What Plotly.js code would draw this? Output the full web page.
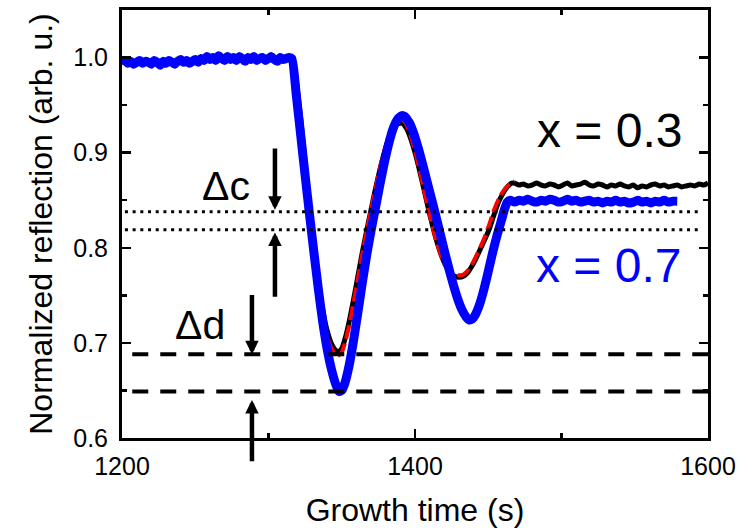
<!DOCTYPE html>
<html>
<head>
<meta charset="utf-8">
<script src="https://cdn.plot.ly/plotly-3.0.1.min.js"></script>
<style>html,body{margin:0;padding:0;background:#fff;}#chart{width:749px;height:530px;}</style>
</head>
<body>
<div id="chart"></div>
<script>
// ---- data ----
// x = 0.7 (blue): flat part sampled every 2 s from 1200 s
const blueFlatStart = 1200, blueFlatStep = 2;
const blueFlatR = [0.993,0.997,0.994,0.996,0.993,0.995,0.997,0.994,0.996,0.995,
  0.993,0.997,0.995,0.992,0.996,0.994,0.997,0.995,0.993,0.996,
  0.998,0.995,0.997,0.994,0.996,0.998,0.995,0.999,0.997,1.001,
  0.998,1.000,0.997,1.002,0.999,0.997,1.001,0.998,1.000,0.997,
  1.001,0.999,0.996,1.000,0.998,1.001,0.997,0.999,1.000,0.997,
  0.999,1.001,0.998,0.996,1.000,0.998,0.999,1.000,0.999];
const blueOscT = [1319,1322,1325,1328,1331,1334,1337,1340,1343,1346,1348,1350,1352,1355,1358,1361,1364,1367,1370,1373,1376,1379,1382,1385,1388,1391,1393,1396,1399,1402,1405,1408,1411,1414,1417,1420,1423,1426,1429,1432,1435,1437,1439,1441,1444,1447,1450,1453,1456,1459,1461,1463];
const blueOscR = [0.960,0.918,0.876,0.835,0.795,0.757,0.722,0.694,0.672,0.656,0.649,0.650,0.657,0.676,0.702,0.732,0.763,0.792,0.818,0.842,0.866,0.889,0.909,0.925,0.935,0.939,0.938,0.932,0.921,0.906,0.889,0.871,0.853,0.835,0.816,0.797,0.779,0.762,0.747,0.735,0.727,0.724,0.725,0.729,0.740,0.756,0.775,0.795,0.813,0.829,0.840,0.848];
const bluePlatStart = 1465, bluePlatStep = 3;
const bluePlatR = [0.850,0.848,0.850,0.849,0.851,0.849,0.848,0.850,0.849,0.851,
  0.850,0.848,0.849,0.851,0.849,0.850,0.848,0.849,0.850,0.848,
  0.849,0.847,0.849,0.848,0.850,0.848,0.849,0.847,0.848,0.850,
  0.848,0.849,0.847,0.849,0.848,0.850,0.848,0.849,0.849];

// x = 0.3 (black)
const blackFlatT = [1200,1210,1220,1230,1240,1250,1260,1270,1280,1290,1300,1310,1316];
const blackFlatR = [0.995,0.996,0.995,0.996,0.996,0.997,0.997,0.999,0.999,0.999,0.999,0.998,0.999];
const blackOscT = [1319,1322,1325,1328,1331,1334,1337,1340,1343,1346,1348,1350,1352,1355,1358,1361,1364,1367,1370,1373,1376,1379,1382,1385,1388,1391,1394,1397,1400,1403,1406,1409,1412,1415,1418,1421,1424,1427,1430,1433,1436,1439,1442,1445,1448,1451,1454,1457,1460,1463,1466];
const blackOscR = [0.975,0.935,0.890,0.845,0.800,0.763,0.735,0.713,0.699,0.692,0.691,0.694,0.703,0.722,0.745,0.770,0.795,0.818,0.840,0.862,0.882,0.900,0.914,0.924,0.930,0.931,0.926,0.915,0.900,0.882,0.862,0.842,0.823,0.806,0.792,0.781,0.774,0.770,0.769,0.770,0.774,0.781,0.790,0.800,0.810,0.821,0.835,0.848,0.857,0.864,0.868];
const blackPlatStart = 1468, blackPlatStep = 3;
const blackPlatR = [0.868,0.866,0.867,0.865,0.866,0.868,0.866,0.865,0.867,0.866,
  0.864,0.866,0.868,0.865,0.866,0.867,0.869,0.866,0.865,0.867,
  0.866,0.864,0.866,0.865,0.867,0.865,0.864,0.866,0.863,0.865,
  0.864,0.866,0.867,0.865,0.866,0.864,0.865,0.866,0.864,0.865,
  0.866,0.865,0.867,0.866,0.868];

// fit (red dashed)
const fitT = [1316,1319,1322,1325,1328,1331,1334,1337,1340,1343,1346,1348,1350,1352,1355,1358,1361,1364,1367,1370,1373,1376,1379,1382,1385,1388,1391,1394,1397,1400,1403,1406,1409,1412,1415,1418,1421,1424,1427,1430,1433,1436,1439,1442,1445,1448,1451,1454,1457,1460,1464,1468];
const fitR = [1.000,0.972,0.930,0.885,0.840,0.795,0.757,0.728,0.707,0.694,0.688,0.687,0.690,0.699,0.718,0.742,0.767,0.793,0.817,0.840,0.862,0.883,0.902,0.917,0.928,0.934,0.935,0.930,0.918,0.902,0.883,0.862,0.842,0.822,0.805,0.791,0.781,0.775,0.772,0.771,0.772,0.776,0.783,0.792,0.802,0.813,0.826,0.840,0.851,0.859,0.866,0.870];

// reference levels
const dotLevels = [0.838, 0.819];   // Δc
const dashLevels = [0.688, 0.649];  // Δd
const labelTexts = ['x = 0.3', 'x = 0.7', 'Δc', 'Δd'];

// ---- build ----
function grid(start, step, n){ const a=[]; for(let i=0;i<n;i++) a.push(start+i*step); return a; }
const blueT = grid(blueFlatStart, blueFlatStep, blueFlatR.length).concat(blueOscT, grid(bluePlatStart, bluePlatStep, bluePlatR.length));
const blueR = blueFlatR.concat(blueOscR, bluePlatR);
const blackT = blackFlatT.concat(blackOscT, grid(blackPlatStart, blackPlatStep, blackPlatR.length));
const blackR = blackFlatR.concat(blackOscR, blackPlatR);

const FONT = 'Arial, "Liberation Sans", sans-serif';

const traces = [
  {x: blackT, y: blackR, type:'scatter', mode:'lines', line:{color:'#000000', width:5, shape:'spline', smoothing:0.5}, name:'x = 0.3', hoverinfo:'skip'},
  {x: fitT, y: fitR, type:'scatter', mode:'lines', line:{color:'#ff0000', width:4, dash:'14px,5px', shape:'spline', smoothing:0.5}, name:'fit', hoverinfo:'skip'},
  {x: blueT, y: blueR, type:'scatter', mode:'lines', line:{color:'#0000ff', width:9, shape:'spline', smoothing:0.5}, name:'x = 0.7', hoverinfo:'skip'}
];

const shapes = [];
dotLevels.forEach(v => shapes.push({type:'line', xref:'x', yref:'y', x0:1202, x1:1595, y0:v, y1:v, line:{color:'#000', width:3, dash:'3px,4.7px'}}));
dashLevels.forEach(v => shapes.push({type:'line', xref:'x', yref:'y', x0:1207, x1:1600, y0:v, y1:v, line:{color:'#000', width:4, dash:'16px,12px'}}));

function arrow(x, yTip, yTail){
  return {x:x, y:yTip, ax:x, ay:yTail, xref:'x', yref:'y', axref:'x', ayref:'y', text:'', showarrow:true,
    arrowhead:2, arrowsize:0.6, arrowwidth:4.5, arrowcolor:'#000', standoff:0, startstandoff:0};
}

const annotations = [
  {x:1533, y:0.923, xref:'x', yref:'y', text:labelTexts[0], showarrow:false, font:{family:FONT, size:48, color:'#000'}},
  {x:1532, y:0.781, xref:'x', yref:'y', text:labelTexts[1], showarrow:false, font:{family:FONT, size:48, color:'#0000ff'}},
  {x:1271, y:0.865, xref:'x', yref:'y', text:labelTexts[2], showarrow:false, font:{family:FONT, size:41, color:'#000'}},
  {x:1253, y:0.719, xref:'x', yref:'y', text:labelTexts[3], showarrow:false, font:{family:FONT, size:41, color:'#000'}},
  arrow(1304.4, 0.840, 0.906),
  arrow(1304.4, 0.816, 0.747),
  arrow(1288.7, 0.688, 0.752),
  arrow(1288.7, 0.640, 0.574)
];

const axisCommon = {
  showline:true, linecolor:'#000', linewidth:3, mirror:'ticks',
  ticks:'inside', ticklen:9, tickwidth:2.5, tickcolor:'#000',
  showgrid:false, zeroline:false,
  tickfont:{family:FONT, size:25, color:'#000'}
};

const layout = {
  width:749, height:530,
  margin:{l:122, r:41, t:10, b:92},
  paper_bgcolor:'#fff', plot_bgcolor:'#fff',
  showlegend:false,
  xaxis: Object.assign({}, axisCommon, {
    range:[1200,1600], tick0:1200, dtick:200,
    minor:{dtick:100, ticks:'inside', ticklen:5, tickwidth:2.5, tickcolor:'#000', showgrid:false},
    ticklabelstandoff:4,
    title:{text:'Growth time (s)', font:{family:FONT, size:32, color:'#000'}, standoff:20}
  }),
  yaxis: Object.assign({}, axisCommon, {
    range:[0.6,1.05], tick0:0.6, dtick:0.1, tickformat:'.1f',
    minor:{dtick:0.05, ticks:'inside', ticklen:5, tickwidth:2.5, tickcolor:'#000', showgrid:false},
    ticklabelstandoff:6,
    title:{text:'Normalized reflection (arb. u.)', font:{family:FONT, size:32, color:'#000'}, standoff:12}
  }),
  shapes: shapes,
  annotations: annotations
};

Plotly.newPlot('chart', traces, layout, {staticPlot:true, displayModeBar:false});
</script>
</body>
</html>
